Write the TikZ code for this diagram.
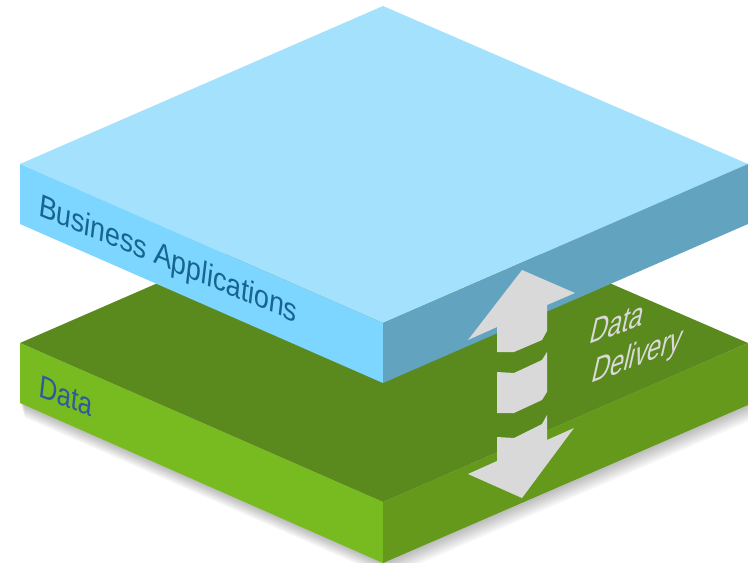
\documentclass[tikz,border=0pt]{standalone}
\usepackage{fontspec}
\setmainfont{Liberation Sans}
\definecolor{bluetop}{HTML}{A3E1FC}
\definecolor{blueleft}{HTML}{7DD6FF}
\definecolor{blueright}{HTML}{62A3BF}
\definecolor{greentop}{HTML}{5A891D}
\definecolor{greenleft}{HTML}{77BB20}
\definecolor{greenright}{HTML}{64991C}
\definecolor{arrowgrey}{HTML}{D9D9D9}
\definecolor{bizblue}{HTML}{15658F}
\definecolor{datablue}{HTML}{2D5B9C}
\tikzset{
  face/.style={line width=0pt},
  arrowpart/.style={fill=arrowgrey},
  labeltext/.style={inner sep=0pt, anchor=base west, transform shape},
}
\begin{document}
\begin{tikzpicture}[x=1pt,y=-1pt]
\useasboundingbox (0,0) rectangle (748,563);
% soft shadow under the lower slab
\foreach \i in {1,...,8}{
  \begin{scope}[shift={(0.6*\i,1.8*\i)}]
    \fill[black,opacity=0.035] (20,343) -- (20,403) -- (383,563) -- (748,405) -- (748,343) -- cycle;
  \end{scope}
}
% lower slab (Data)
\fill[greentop]   (20,343) -- (383,185) -- (748,343) -- (383,502) -- cycle;
\fill[greenleft]  (20,343) -- (383,502) -- (383,563) -- (20,403) -- cycle;
\fill[greenright] (383,502) -- (748,343) -- (748,405) -- (383,563) -- cycle;
% upper slab (Business Applications)
\fill[bluetop]   (20,164) -- (383,6) -- (748,164) -- (383,323) -- cycle;
\fill[blueleft]  (20,164) -- (383,323) -- (383,383) -- (20,224) -- cycle;
\fill[blueright] (383,323) -- (748,164) -- (748,224) -- (383,383) -- cycle;
% data delivery arrow
\fill[arrowpart] (522,270) -- (575,293) -- (547,305) -- (547,331) -- (542,340) -- (514,352) -- (497,352) -- (497,327) -- (468,340) -- cycle;
\fill[arrowpart] (497,372) -- (514,373) -- (542,360) -- (547,352) -- (547,392) -- (542,400) -- (514,413) -- (497,413) -- cycle;
\fill[arrowpart] (497,437) -- (514,438) -- (542,424) -- (547,415) -- (547,440) -- (574,428) -- (522,498) -- (468,474) -- (497,461) -- cycle;
% labels
\begin{scope}[shift={(38,215)}, cm={1.02,-0.425,0.14,1.2,(0,0)}]
  \node[labeltext, text=bizblue, font=\fontsize{26}{30}\selectfont] (biz) at (0,0) {Business Applications};
\end{scope}
\begin{scope}[shift={(38,396)}, cm={1.0,-0.39,0.14,1.25,(0,0)}]
  \node[labeltext, text=datablue, font=\fontsize{25}{30}\selectfont] (data) at (0,0) {Data};
\end{scope}
\begin{scope}[shift={(588,345)}, cm={1,0.36,0.33,1.45,(0,0)}]
  \node[labeltext, text=arrowgrey, font=\fontsize{25}{30}\selectfont] (dd1) at (0,0) {Data};
\end{scope}
\begin{scope}[shift={(590,384)}, cm={1,0.38,0.33,1.45,(0,0)}]
  \node[labeltext, text=arrowgrey, font=\fontsize{25}{30}\selectfont] (dd2) at (0,0) {Delivery};
\end{scope}
\end{tikzpicture}
\end{document}
